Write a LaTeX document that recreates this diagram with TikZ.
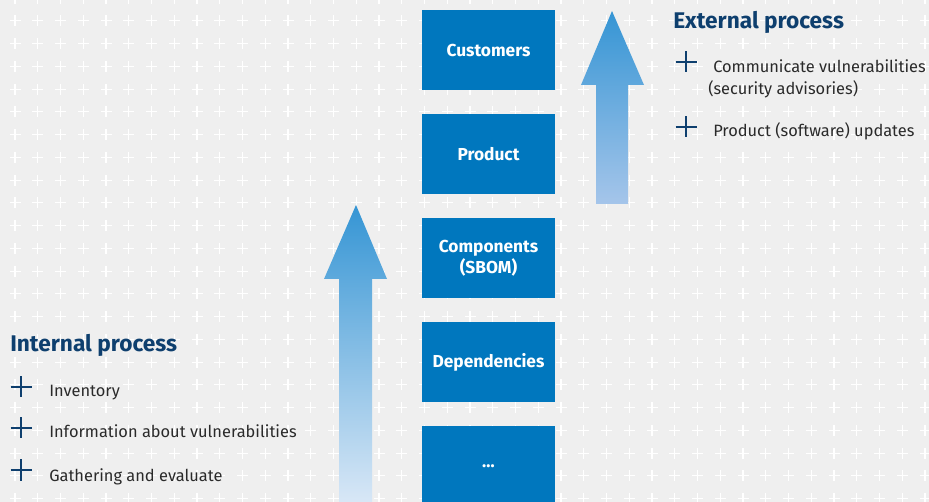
\documentclass[tikz,border=0pt]{standalone}
\usepackage{fontspec}
\setmainfont{Fira Sans}
\usetikzlibrary{positioning}
\definecolor{bggray}{HTML}{EFEFEF}
\definecolor{boxblue}{HTML}{0077BE}
\definecolor{headblue}{HTML}{0E3F6E}
\definecolor{textgray}{HTML}{2A2A2A}
\definecolor{arrowtop}{HTML}{3595D4}
\definecolor{arrowlow}{HTML}{A5C5EA}
\definecolor{arrowpale}{HTML}{D8E7F6}
\tikzset{
    block/.style={fill=boxblue, text=white, font=\bfseries\fontsize{13}{15.5}\selectfont,
        minimum width=99.75pt, minimum height=60pt, inner sep=0pt, align=center},
    heading/.style={text=headblue, font=\bfseries\fontsize{17}{20}\selectfont,
        anchor=base west, inner sep=0pt},
    item/.style={text=textgray, font=\fontsize{12.3}{16.5}\selectfont,
        anchor=base west, inner sep=0pt, align=left},
    bulletmark/.style={draw=headblue, line width=1.3pt},
}

\begin{document}
\begin{tikzpicture}[x=0.75pt,y=-0.75pt]
    % background with the grid of crosses
    \clip (0,0) rectangle (929,502);
    \fill[bggray] (0,0) rectangle (929,502);
    \foreach \i in {0,...,40}
        \foreach \j in {0,...,22}
            \draw[white, line width=0.8pt]
                (15+22.75*\i-5.5,-1.8+22.75*\j) -- ++(11,0)
                (15+22.75*\i,-1.8+22.75*\j-5.5) -- ++(0,11);

    % draw the stack of boxes
    \node[block] (cust) at (488.5,50) {Customers};
    \node[block, below=17.6pt of cust] (prod) {Product};
    \node[block, below=17.6pt of prod] (comp) {Components\\(SBOM)};
    \node[block, below=17.6pt of comp] (deps) {Dependencies};
    \node[block, below=17.6pt of deps] (more) {\dots};

    % draw the two arrows
    \shade[top color=arrowtop, bottom color=arrowpale]
        (339,502) -- (339,279) -- (324,279) -- (356,205) -- (387,279)
        -- (372,279) -- (372,502) -- cycle;
    \shade[top color=arrowtop, bottom color=arrowlow]
        (596,204) -- (596,85) -- (581,85) -- (612,11) -- (644,85)
        -- (628,85) -- (628,204) -- cycle;

    % label the external process
    \node[heading] (ext) at (673,29) {External process};
    \node[item] (ext1) at (708,95) {\hspace{3.75pt}Communicate vulnerabilities\\(security advisories)};
    \node[item] (ext2) at (713,137) {Product (software) updates};

    % label the internal process
    \node[heading] (int) at (10,352) {Internal process};
    \node[item] (int1) at (49,397) {Inventory};
    \node[item] (int2) at (49,438) {Information about vulnerabilities};
    \node[item] (int3) at (49,482) {Gathering and evaluate};

    % draw the bullet crosses
    \foreach \x/\y in {686/62, 686/127, 21/387, 21/428, 21/470}
        \draw[bulletmark] (\x-10.5,\y) -- (\x+10.5,\y) (\x,\y-10.5) -- (\x,\y+10.5);
\end{tikzpicture}
\end{document}
